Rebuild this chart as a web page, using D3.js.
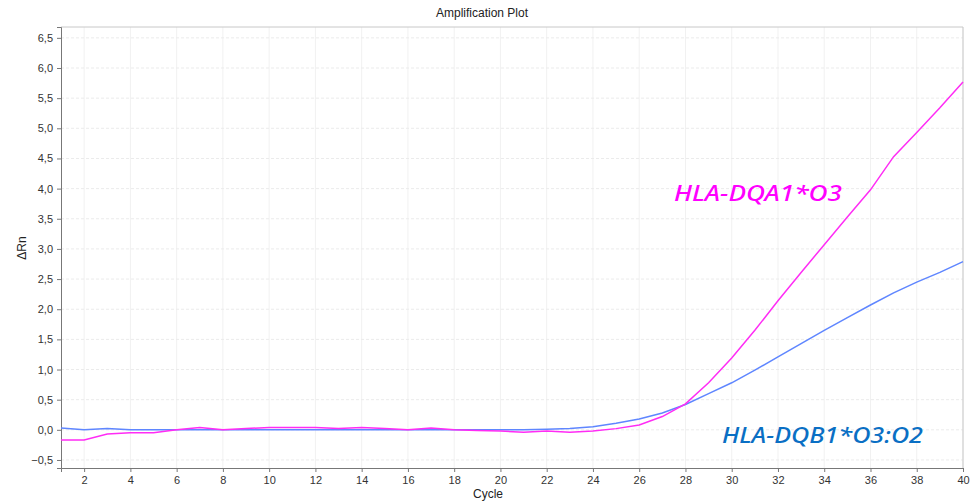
<!DOCTYPE html>
<html>
<head>
<meta charset="utf-8">
<script src="https://cdn.jsdelivr.net/npm/d3@7"></script>
<style>
  html, body { margin: 0; padding: 0; background: #fff; }
  svg { display: block; font-family: "Liberation Sans", Arial, sans-serif; }
</style>
</head>
<body>
<svg id="chart" width="973" height="503"></svg>
<script>
// Cycle numbers 1..40
const cycles = d3.range(1, 41);

// ΔRn per cycle for each target
const dqa1 = [-0.17, -0.17, -0.07, -0.05, -0.05, 0.00, 0.04, 0.00, 0.02, 0.04,
              0.04, 0.04, 0.02, 0.04, 0.02, 0.00, 0.03, 0.00, -0.01, -0.02,
              -0.04, -0.02, -0.04, -0.02, 0.02, 0.08, 0.22, 0.43, 0.78, 1.19,
              1.65, 2.14, 2.61, 3.07, 3.53, 3.98, 4.53, 4.93, 5.34, 5.77];
const dqb1 = [0.03, 0.00, 0.02, 0.00, 0.00, 0.00, 0.00, 0.00, 0.00, 0.00,
              0.00, 0.00, 0.00, 0.00, 0.00, 0.00, 0.00, 0.00, 0.00, 0.00,
              0.00, 0.01, 0.02, 0.05, 0.11, 0.18, 0.28, 0.42, 0.60, 0.78,
              0.99, 1.21, 1.43, 1.65, 1.86, 2.07, 2.27, 2.45, 2.61, 2.79];

const xTicks = d3.range(2, 41, 2);
const yTicks = d3.range(-0.5, 6.51, 0.5).map(v => Math.round(v * 10) / 10);

const seriesNames = ["HLA-DQA1*O3", "HLA-DQB1*O3:O2"];

const svg = d3.select("#chart");
const margin = { left: 61, right: 10, top: 27, bottom: 35 };
const W = 973, H = 503;

const x = d3.scaleLinear().domain([1, 40]).range([margin.left, W - margin.right]);
const y = d3.scaleLinear().domain([-0.633, 6.68]).range([H - margin.bottom, margin.top]);

const fmt = v => d3.format(".1f")(v).replace(".", ",");

// grid
const grid = svg.append("g");
grid.selectAll("line.v").data(xTicks).join("line")
  .attr("x1", d => x(d)).attr("x2", d => x(d))
  .attr("y1", margin.top).attr("y2", H - margin.bottom)
  .attr("stroke", "#f1f1f1").attr("stroke-width", 1);
grid.selectAll("line.h").data(yTicks).join("line")
  .attr("x1", margin.left).attr("x2", W - margin.right)
  .attr("y1", d => y(d)).attr("y2", d => y(d))
  .attr("stroke", "#ebebeb").attr("stroke-width", 1)
  .attr("stroke-dasharray", "3,2");

// frame (top and right)
svg.append("path")
  .attr("d", `M${margin.left},${margin.top}H${W - margin.right}V${H - margin.bottom}`)
  .attr("fill", "none").attr("stroke", "#c8c8c8");

// axes
const xAxis = svg.append("g")
  .attr("transform", `translate(0,${H - margin.bottom})`)
  .call(d3.axisBottom(x).tickValues(xTicks).tickSize(4).tickPadding(4).tickFormat(d3.format("d")));
const yAxis = svg.append("g")
  .attr("transform", `translate(${margin.left},0)`)
  .call(d3.axisLeft(y).tickValues(yTicks).tickSize(4).tickPadding(4).tickFormat(fmt));
[xAxis, yAxis].forEach(a => {
  a.select(".domain").attr("stroke", "#777");
  a.selectAll(".tick line").attr("stroke", "#777");
  a.selectAll("text").attr("fill", "#333").style("font-size", "11px")
    .style("font-family", "'Liberation Sans', Arial, sans-serif");
});

// lines
const line = d3.line().x((d, i) => x(cycles[i])).y(d => y(d));
svg.append("path").datum(dqb1).attr("d", line)
  .attr("fill", "none").attr("stroke", "#5f86ff").attr("stroke-width", 1.5);
svg.append("path").datum(dqa1).attr("d", line)
  .attr("fill", "none").attr("stroke", "#ff2cf5").attr("stroke-width", 1.5);

// titles
svg.append("text").attr("x", 482).attr("y", 17).attr("text-anchor", "middle")
  .style("font-size", "12px").attr("fill", "#222").text("Amplification Plot");
svg.append("text").attr("x", 488).attr("y", 498).attr("text-anchor", "middle")
  .style("font-size", "12px").attr("fill", "#222").text("Cycle");
svg.append("text").attr("transform", "translate(26,248) rotate(-90)").attr("text-anchor", "middle")
  .style("font-size", "12px").attr("fill", "#222").text("ΔRn");

// series labels
svg.append("text").attr("x", 674).attr("y", 201)
  .attr("textLength", 168).attr("lengthAdjust", "spacingAndGlyphs")
  .style("font-family", "'Noto Sans', sans-serif").style("font-style", "italic")
  .style("font-weight", "500").style("font-size", "22px")
  .attr("fill", "#ff00ff").text(seriesNames[0]);
svg.append("text").attr("x", 722).attr("y", 443)
  .attr("textLength", 201).attr("lengthAdjust", "spacingAndGlyphs")
  .style("font-family", "'Noto Sans', sans-serif").style("font-style", "italic")
  .style("font-weight", "500").style("font-size", "22px")
  .attr("fill", "#0a6fc4").text(seriesNames[1]);
</script>
</body>
</html>
